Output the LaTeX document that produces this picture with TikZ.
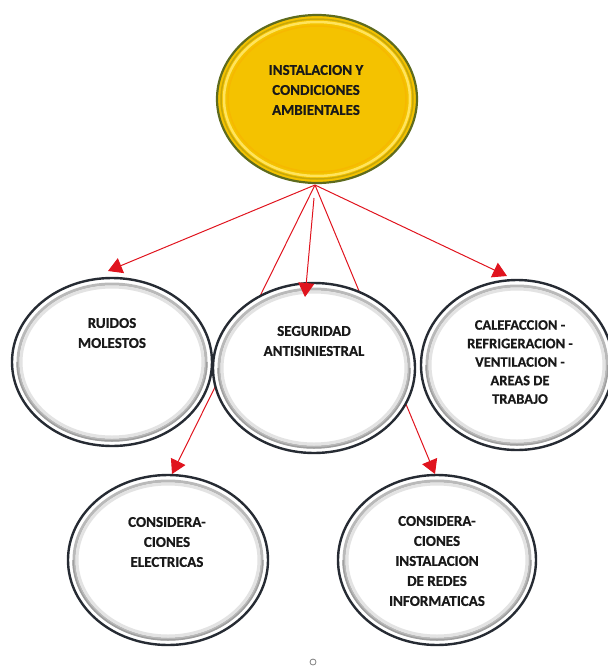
\documentclass[tikz,border=0pt]{standalone}
\usepackage{fontspec}
\setmainfont{Carlito}
\newfontfamily\lblfont{Carlito}[UprightFont=*-Bold, FakeBold=0.6]
\usetikzlibrary{arrows.meta,shapes.geometric}
\definecolor{rim}{HTML}{262B33}
\definecolor{gold}{HTML}{F4C200}
\definecolor{olivedge}{HTML}{5E6B1E}
\definecolor{lightgold}{HTML}{FFE45C}
\definecolor{arrowred}{HTML}{E0141E}
\tikzset{
  greyell/.style={ellipse, draw=rim, line width=2.4pt, fill=white, inner sep=0pt},
  goldell/.style={ellipse, draw=olivedge, line width=2.2pt, fill=gold, inner sep=0pt},
  lbl/.style={font=\lblfont\fontsize{15}{20}\selectfont, align=center, inner sep=0pt, text=black!90},
  link/.style={draw=arrowred, line width=1pt},
  arr/.style={link, -{Triangle[length=14pt,width=16pt]}, arrowred},
  dot/.style={circle, draw=gray, line width=0.8pt, minimum size=6pt, inner sep=0pt}
}
\newcommand{\greynode}[5]{%
  \node[greyell, minimum width={2*#4*1pt}, minimum height={2*#5*1pt}] (#1) at (#2,#3) {};
  \draw[gray!55, line width=3pt] (#1.center) ellipse [x radius={(#4-6)*1pt}, y radius={(#5-6)*1pt}];
  \draw[gray!22, line width=3pt] (#1.center) ellipse [x radius={(#4-9)*1pt}, y radius={(#5-9)*1pt}];
  \draw[gray!75, line width=1.5pt] ([shift={(0:#4*1pt-5pt)}]#1.center) arc [start angle=0, end angle=-180, x radius={(#4-5)*1pt}, y radius={(#5-5)*1pt}];
}
\begin{document}
\begin{tikzpicture}[x=1pt,y=-1pt]
\useasboundingbox (0,0) rectangle (608,667);

% top node
\node[goldell, minimum width=200pt, minimum height=168pt] (top) at (317,99) {};
\draw[gold!70!olivedge, line width=1.5pt] (top.center) ellipse [x radius=96pt, y radius=80pt];
\draw[lightgold, line width=2.5pt] (top.center) ellipse [x radius=93pt, y radius=77pt];
\draw[gold!85!orange, line width=1.5pt] (top.center) ellipse [x radius=89pt, y radius=73pt];
\node[lbl] (ttop) at (316,90) {INSTALACION Y\\CONDICIONES\\AMBIENTALES};

% second row side nodes and bottom row
\greynode{ruidos}{112}{362}{100}{84}
\greynode{calef}{517}{365}{96}{85}
\greynode{elec}{168}{560}{100}{85}
\greynode{redes}{437}{560}{99}{85}

% connector points
\coordinate (src) at (315,185);
\coordinate (srcm) at (314,198);
\coordinate (tipL) at (108,271);
\coordinate (tipR) at (507,276);
\coordinate (tipM) at (305,297);
\coordinate (tipBL) at (172,474);
\coordinate (tipBR) at (435,474);

\draw[arr] (src) -- (tipL);
\draw[arr] (src) -- (tipR);
\draw[arr] (src) -- (tipBL);
\draw[arr] (src) -- (tipBR);

% middle node on top of the passing lines
\greynode{segur}{314}{368}{101}{85}
\draw[arr] (srcm) -- (tipM);

% labels
\node[lbl] (truidos) at (112,333) {RUIDOS\\MOLESTOS};
\node[lbl] (tsegur) at (314,341) {SEGURIDAD\\ANTISINIESTRAL};
\node[lbl, font=\lblfont\fontsize{14.5}{18.5}\selectfont] (tcalef) at (520,362) {CALEFACCION -\\REFRIGERACION -\\VENTILACION -\\AREAS DE\\TRABAJO};
\node[lbl] (telec) at (167,542) {CONSIDERA-\\CIONES\\ELECTRICAS};
\node[lbl] (tredes) at (437,561) {CONSIDERA-\\CIONES\\INSTALACION\\DE REDES\\INFORMATICAS};

\node[dot] (mark) at (313,662) {};
\end{tikzpicture}
\end{document}
